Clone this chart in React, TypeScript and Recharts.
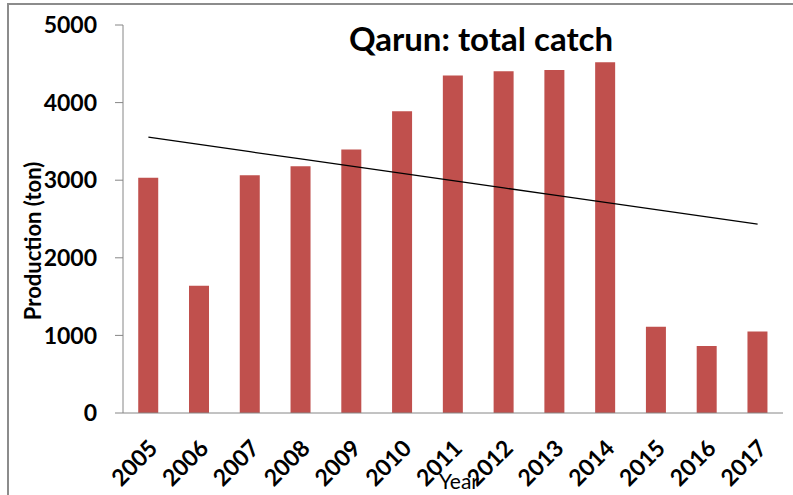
import { Bar, ComposedChart, Line, XAxis, YAxis } from "recharts";

// Qarun lake, total catch per year (ton)
const YEARS = ["2005", "2006", "2007", "2008", "2009", "2010", "2011", "2012", "2013", "2014", "2015", "2016", "2017"];
const CATCH = [3030, 1640, 3065, 3180, 3395, 3890, 4350, 4405, 4420, 4520, 1110, 865, 1050];
const Y_TICKS = [0, 1000, 2000, 3000, 4000, 5000];

// excel-style linear trendline (least squares over the catch values)
function linearTrend(values: number[]) {
  const n = values.length;
  const mx = (n - 1) / 2;
  const my = values.reduce((a, b) => a + b, 0) / n;
  let sxy = 0;
  let sxx = 0;
  values.forEach((v, i) => {
    sxy += (i - mx) * (v - my);
    sxx += (i - mx) * (i - mx);
  });
  const slope = sxy / sxx;
  return values.map((_, i) => my + slope * (i - mx));
}

const TREND = linearTrend(CATCH);
const EDGE_TICKS = YEARS.map((_, i) => i - 0.5).concat(YEARS.length - 0.5);

const data = YEARS.map((year, i) => ({
  year,
  idx: i,
  total: CATCH[i],
  trend: TREND[i],
}));

const FONT = "Lato, 'Open Sans', sans-serif";
const AXIS_GREY = "#868686";

function YearTick({ x, y, payload }: any) {
  const tx = x + 5;
  const ty = y + 23;
  return (
    <text
      x={tx}
      y={ty}
      transform={`rotate(-45 ${tx} ${ty})`}
      textAnchor="end"
      dy="0.35em"
      fontFamily={FONT}
      fontWeight={700}
      fontSize={23}
      fill="#000"
    >
      {payload.value}
    </text>
  );
}

function YLabel({ viewBox }: any) {
  const cx = 32;
  const cy = viewBox.y + viewBox.height / 2 + 22;
  return (
    <text
      x={cx}
      y={cy}
      transform={`rotate(-90 ${cx} ${cy})`}
      textAnchor="middle"
      dominantBaseline="central"
      fontFamily={FONT}
      fontWeight={700}
      fontSize={22}
      fill="#000"
    >
      Production (ton)
    </text>
  );
}

export default function App() {
  return (
    <div
      style={{
        position: "absolute",
        left: 0,
        top: 0,
        width: 793,
        height: 495,
        overflow: "hidden",
        background: "#fff",
      }}
    >
      <div
        style={{
          position: "absolute",
          left: 7,
          top: 3,
          width: 900,
          height: 600,
          borderLeft: "2px solid #8c8c8c",
          borderTop: "2px solid #8c8c8c",
        }}
      />
      <div
        style={{
          position: "absolute",
          left: 481,
          top: 22,
          transform: "translateX(-50%)",
          whiteSpace: "nowrap",
          fontFamily: FONT,
          fontWeight: 700,
          fontSize: 33,
          lineHeight: 1,
          color: "#000",
        }}
      >
        Qarun: total catch
      </div>
      <ComposedChart
        width={793}
        height={495}
        data={data}
        margin={{ top: 25, right: 10, bottom: 0, left: 0 }}
        barCategoryGap="30%"
        style={{ position: "absolute", left: 0, top: 0 }}
      >
        <XAxis
          xAxisId="edges"
          dataKey="idx"
          type="number"
          domain={[-0.5, YEARS.length - 0.5]}
          ticks={EDGE_TICKS}
          height={0}
          tickSize={10}
          tickLine={{ stroke: AXIS_GREY }}
          axisLine={{ stroke: AXIS_GREY }}
          tick={() => <g />}
          allowDataOverflow
        />
        <XAxis
          dataKey="year"
          height={82}
          tickLine={false}
          axisLine={{ stroke: AXIS_GREY }}
          interval={0}
          tick={<YearTick />}
          label={{
            value: "Year",
            position: "insideBottom",
            offset: 6,
            dx: 6,
            style: { fontFamily: FONT, fontSize: 21, fill: "#000" },
          }}
        />
        <YAxis
          width={123}
          domain={[0, 5000]}
          ticks={Y_TICKS}
          tickSize={8}
          tickMargin={18}
          tickLine={{ stroke: AXIS_GREY }}
          axisLine={{ stroke: AXIS_GREY }}
          tick={{ fontFamily: FONT, fontWeight: 700, fontSize: 23, fill: "#000" }}
          label={<YLabel />}
        />
        <Bar dataKey="total" fill="#C0504D" isAnimationActive={false} />
        <Line
          dataKey="trend"
          type="linear"
          stroke="#000"
          strokeWidth={1.3}
          dot={false}
          activeDot={false}
          isAnimationActive={false}
        />
      </ComposedChart>
    </div>
  );
}
